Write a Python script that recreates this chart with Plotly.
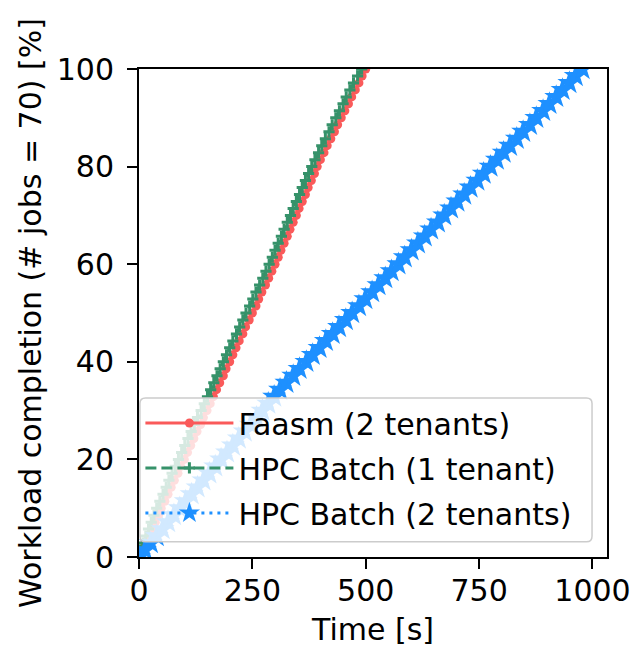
import numpy as np
import plotly.graph_objects as go

N_JOBS = 70

# Completion time [s] of each of the 70 jobs
faasm_2_tenants = [
    7, 13, 22, 28, 36, 43, 49, 57, 64, 71,
    78, 86, 92, 100, 107, 114, 121, 128, 136, 142,
    150, 157, 164, 171, 178, 186, 192, 200, 207, 214,
    221, 229, 235, 243, 250, 258, 264, 271, 279, 286,
    293, 300, 307, 313, 320, 327, 333, 340, 347, 353,
    360, 367, 373, 380, 387, 393, 400, 408, 415, 423,
    431, 438, 446, 454, 462, 469, 477, 485, 492, 500,
]
hpc_batch_1_tenant = [
    3, 9, 15, 21, 27, 33, 39, 46, 53, 60,
    66, 73, 80, 87, 94, 101, 108, 115, 122, 129,
    137, 144, 151, 158, 165, 172, 179, 186, 193, 200,
    207, 215, 222, 229, 236, 244, 251, 258, 266, 273,
    280, 287, 294, 300, 307, 314, 320, 327, 334, 340,
    347, 354, 360, 367, 374, 381, 388, 396, 403, 411,
    419, 426, 434, 442, 450, 457, 465, 473, 482, 491,
]
hpc_batch_2_tenants = [
    13, 26, 39, 52, 64, 77, 90, 103, 116, 129,
    142, 155, 168, 181, 194, 207, 220, 233, 246, 259,
    272, 285, 298, 311, 325, 340, 354, 369, 383, 398,
    412, 427, 441, 456, 470, 485, 499, 514, 528, 543,
    557, 572, 586, 601, 615, 630, 644, 659, 673, 688,
    702, 717, 731, 746, 760, 775, 789, 804, 818, 833,
    847, 862, 876, 891, 905, 920, 934, 949, 963, 978,
]

series_names = ["Faasm (2 tenants)", "HPC Batch (1 tenant)", "HPC Batch (2 tenants)"]
x_ticks = [0, 250, 500, 750, 1000]
y_ticks = [0, 20, 40, 60, 80, 100]

FONT = "DejaVu Sans"
FS = 30


def cdf(times):
    t = np.concatenate([[0], np.sort(np.asarray(times, dtype=float))])
    pct = 100.0 * np.arange(len(t)) / N_JOBS
    return t, pct


fig = go.Figure()

t, p = cdf(faasm_2_tenants)
fig.add_trace(go.Scatter(
    x=t, y=p, name=series_names[0], mode="lines+markers", legendgroup="a",
    line=dict(color="#fa5a5a", width=3),
    marker=dict(symbol="circle", size=9, color="#fa5a5a"),
))

t, p = cdf(hpc_batch_1_tenant)
fig.add_trace(go.Scatter(
    x=t, y=p, name=series_names[1], mode="lines+markers", legendgroup="b",
    line=dict(color="#36926a", width=3, dash="11px,5px"),
    marker=dict(symbol="cross-thin", size=8, color="#36926a",
                line=dict(color="#36926a", width=3)),
))

t, p = cdf(hpc_batch_2_tenants)
fig.add_trace(go.Scatter(
    x=t, y=p, name=series_names[2], mode="lines+markers", legendgroup="c",
    line=dict(color="#1e90ff", width=3, dash="3px,5px"),
    marker=dict(symbol="star", size=18, color="#1e90ff"),
))

axis_common = dict(
    showline=True, linecolor="black", linewidth=2, mirror=True,
    ticks="outside", ticklen=10, tickwidth=2, tickcolor="black",
    showgrid=False, zeroline=False, automargin=False,
    tickfont=dict(family=FONT, size=FS, color="black"),
)

# legend frame (matplotlib-style rounded, semi-transparent box)
lx0, lx1, ly0, ly1, r = 0.002, 0.968, 0.031, 0.326, 0.012
ry = r * 468 / 488
legend_frame = (
    f"M {lx0 + r},{ly0} L {lx1 - r},{ly0} Q {lx1},{ly0} {lx1},{ly0 + ry} "
    f"L {lx1},{ly1 - ry} Q {lx1},{ly1} {lx1 - r},{ly1} "
    f"L {lx0 + r},{ly1} Q {lx0},{ly1} {lx0},{ly1 - ry} "
    f"L {lx0},{ly0 + ry} Q {lx0},{ly0} {lx0 + r},{ly0} Z"
)

fig.update_layout(
    width=634, height=648,
    margin=dict(l=139, r=27, t=69, b=91),
    paper_bgcolor="white", plot_bgcolor="white",
    font=dict(family=FONT, size=FS, color="black"),
    xaxis=dict(range=[0, 1032], tickvals=x_ticks, ticklabelstandoff=-4,
               title=dict(text="Time [s]", font=dict(family=FONT, size=FS), standoff=12),
               **axis_common),
    yaxis=dict(range=[0, 100], tickvals=y_ticks, ticklabelstandoff=7,
               title=dict(text="Workload completion (# jobs = 70) [%]",
                          font=dict(family=FONT, size=FS), standoff=6),
               **axis_common),
    legend=dict(
        x=0.003, y=0.037, xanchor="left", yanchor="bottom",
        bgcolor="rgba(255,255,255,0)", bordercolor="rgba(0,0,0,0)", borderwidth=0,
        font=dict(family=FONT, size=FS, color="black"),
        itemwidth=88, tracegroupgap=3,
    ),
    shapes=[dict(type="path", xref="paper", yref="paper", path=legend_frame,
                 fillcolor="rgba(255,255,255,0.8)",
                 line=dict(color="#cccccc", width=1.5), layer="above")],
    showlegend=True,
)

fig.write_html("out.html")
